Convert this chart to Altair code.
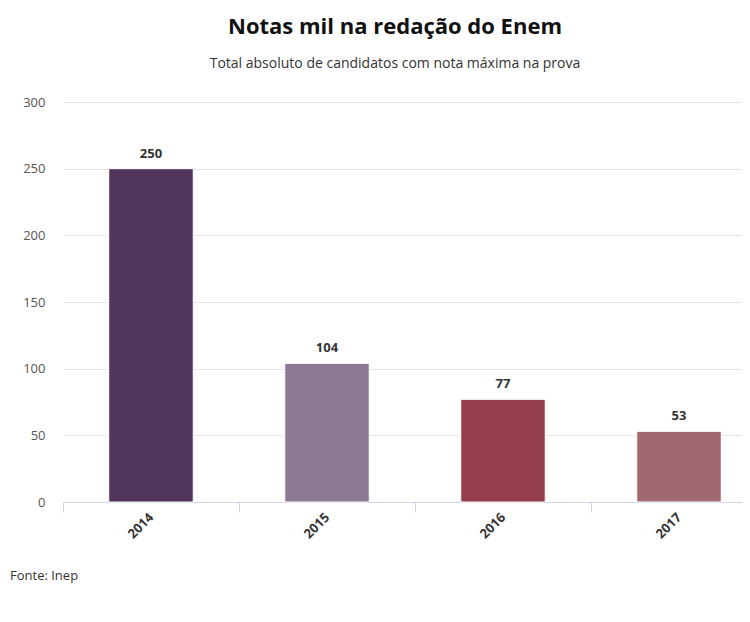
import altair as alt
import pandas as pd

anos = ["2014", "2015", "2016", "2017"]
notas = [250, 104, 77, 53]
cores = ["#51355a", "#8c7a92", "#953e4b", "#a06871"]

df = pd.DataFrame({"ano": anos, "notas": notas})

FONT = "Open Sans"

x = alt.X(
    "ano:N",
    sort=anos,
    title=None,
    scale=alt.Scale(paddingInner=0.52, paddingOuter=0.26),
    axis=alt.Axis(
        labelAngle=-45,
        labelAlign="right",
        labelBaseline="middle",
        labelFontWeight="bold",
        labelColor="#333333",
        labelFontSize=13,
        labelFont=FONT,
        labelPadding=3,
        tickOffset=-88,
        labelOffset=88,
        tickColor="#ccd6eb",
        tickSize=10,
        domainColor="#ccd6eb",
        grid=False,
    ),
)

y = alt.Y(
    "notas:Q",
    title=None,
    scale=alt.Scale(domain=[0, 300], nice=False),
    axis=alt.Axis(
        values=[0, 50, 100, 150, 200, 250, 300],
        domain=False,
        ticks=False,
        labelPadding=18,
        labelColor="#555555",
        labelFontSize=13,
        labelFont=FONT,
        gridColor="#e6e6e6",
    ),
)

bars = alt.Chart(df).mark_bar(stroke="white", strokeWidth=1).encode(
    x=x,
    y=y,
    color=alt.Color("ano:N", scale=alt.Scale(domain=anos, range=cores), legend=None),
)

labels = alt.Chart(df).mark_text(
    dy=-15, font=FONT, fontSize=13, fontWeight="bold", color="#333333"
).encode(x=alt.X("ano:N", sort=anos), y="notas:Q", text="notas:Q")

fonte = alt.Chart(pd.DataFrame({"t": ["Fonte: Inep"]})).mark_text(
    align="left", baseline="middle", font=FONT, fontSize=13, color="#333333"
).encode(x=alt.value(-53), y=alt.value(474), text="t:N")

chart = alt.layer(bars, labels, fonte).properties(
    width=704,
    height=400,
    autosize=alt.AutoSizeParams(type="none"),
    padding={"left": 55, "top": 94, "right": -25, "bottom": 100},
    title=alt.TitleParams(
        text="Notas mil na redação do Enem",
        subtitle="Total absoluto de candidatos com nota máxima na prova",
        font=FONT,
        fontSize=22,
        fontWeight="bold",
        color="#111111",
        subtitleFont=FONT,
        subtitleFontSize=14,
        subtitleColor="#333333",
        subtitlePadding=18,
        anchor="middle",
        dx=-20,
        offset=24,
    ),
).configure_view(stroke=None)

chart.save("out.html", embed_options={"renderer": "svg", "actions": False})
